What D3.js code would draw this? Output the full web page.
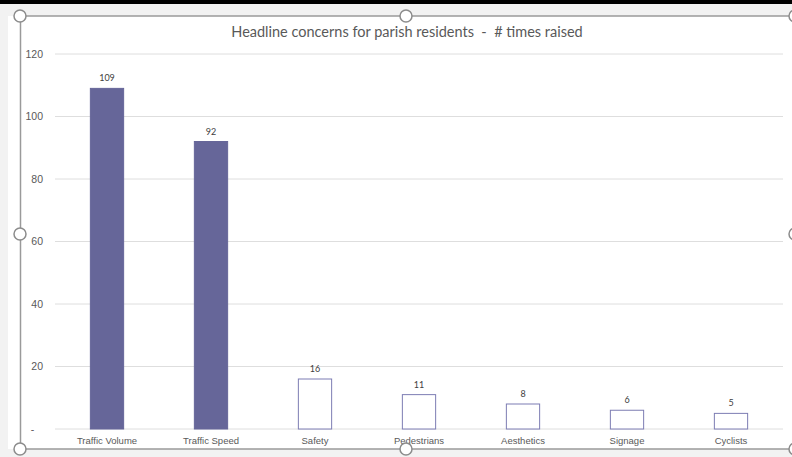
<!DOCTYPE html>
<html>
<head>
<meta charset="utf-8">
<script src="https://cdn.jsdelivr.net/npm/d3@7"></script>
<style>
  body { margin: 0; background: #f2f2f2; }
  svg { display: block; font-family: Lato, "Open Sans", sans-serif; }
</style>
</head>
<body>
<div id="chart"></div>
<script>
// values
const categories = ["Traffic Volume", "Traffic Speed", "Safety", "Pedestrians", "Aesthetics", "Signage", "Cyclists"];
const timesRaised = [109, 92, 16, 11, 8, 6, 5];
const solidBars = ["Traffic Volume", "Traffic Speed"];
const yTicks = [0, 20, 40, 60, 80, 100, 120];
const title = "Headline concerns for parish residents  -  # times raised";

let width = 792;
let height = 457;

let svg = d3.select("#chart").append("svg").attr("width", width).attr("height", height);

// grey screen round the chart, black strip at the top
svg.append("rect").attr("width", width).attr("height", height).attr("fill", "#f2f2f2");
svg.append("rect").attr("x", 8).attr("y", 16).attr("width", 784).attr("height", 433).attr("fill", "#ffffff");
svg.append("rect").attr("width", width).attr("height", 4).attr("fill", "#000000");

let x = d3.scaleBand()
  .domain(categories)
  .range([55, 783])
  .paddingInner(0.68)
  .paddingOuter(0.34);

let y = d3.scaleLinear()
  .domain([0, 120])
  .range([429, 54]);

// gridlines
svg.append("g")
  .selectAll("line")
  .data(yTicks)
  .join("line")
  .attr("x1", 55).attr("x2", 783)
  .attr("y1", d => y(d)).attr("y2", d => y(d))
  .attr("stroke", "#dedede")
  .attr("stroke-width", 1);

// y axis labels
let yAxis = d3.axisLeft(y)
  .tickValues(yTicks)
  .tickSize(0)
  .tickPadding(12)
  .tickFormat(d => d === 0 ? "-   " : d);

svg.append("g")
  .attr("transform", "translate(55,0)")
  .call(yAxis)
  .call(g => g.select(".domain").remove())
  .call(g => g.selectAll("text")
    .attr("fill", "#595959")
    .style("white-space", "pre")
    .style("font-size", "10.5px"));

// x axis labels
let xAxis = d3.axisBottom(x).tickSize(0).tickPadding(8);
svg.append("g")
  .attr("transform", "translate(0,429)")
  .call(xAxis)
  .call(g => g.select(".domain").remove())
  .call(g => g.selectAll("text")
    .attr("fill", "#595959")
    .style("font-size", "9.5px"));

// bars
svg.append("g")
  .selectAll("rect")
  .data(categories)
  .join("rect")
  .attr("x", d => x(d))
  .attr("width", x.bandwidth())
  .attr("y", (d, i) => y(timesRaised[i]))
  .attr("height", (d, i) => y(0) - y(timesRaised[i]))
  .attr("fill", d => solidBars.includes(d) ? "#666699" : "#ffffff")
  .attr("stroke", d => solidBars.includes(d) ? "#666699" : "#7d7db3")
  .attr("stroke-width", 1);

// data labels
svg.append("g")
  .selectAll("text")
  .data(categories)
  .join("text")
  .attr("x", d => x(d) + x.bandwidth() / 2)
  .attr("y", (d, i) => y(timesRaised[i]) - 7)
  .attr("text-anchor", "middle")
  .attr("fill", "#404040")
  .style("font-size", "9px")
  .text((d, i) => timesRaised[i]);

// title (keep the double spaces)
svg.append("text")
  .attr("x", 407)
  .attr("y", 37)
  .attr("text-anchor", "middle")
  .attr("fill", "#595959")
  .style("white-space", "pre")
  .style("font-size", "14.5px")
  .text(title);

// selection frame and handles
svg.append("path")
  .attr("d", "M792,16H20.5V449H792")
  .attr("fill", "none")
  .attr("stroke", "#9a9a9a")
  .attr("stroke-width", 1.5);

let handles = [[20, 16], [406, 16], [795, 16], [20, 234], [795, 234], [20, 449], [406, 449], [795, 449]];
svg.append("g")
  .selectAll("circle")
  .data(handles)
  .join("circle")
  .attr("cx", d => d[0])
  .attr("cy", d => d[1])
  .attr("r", 6)
  .attr("fill", "#ffffff")
  .attr("stroke", "#8c8c8c")
  .attr("stroke-width", 1.5);
</script>
</body>
</html>
